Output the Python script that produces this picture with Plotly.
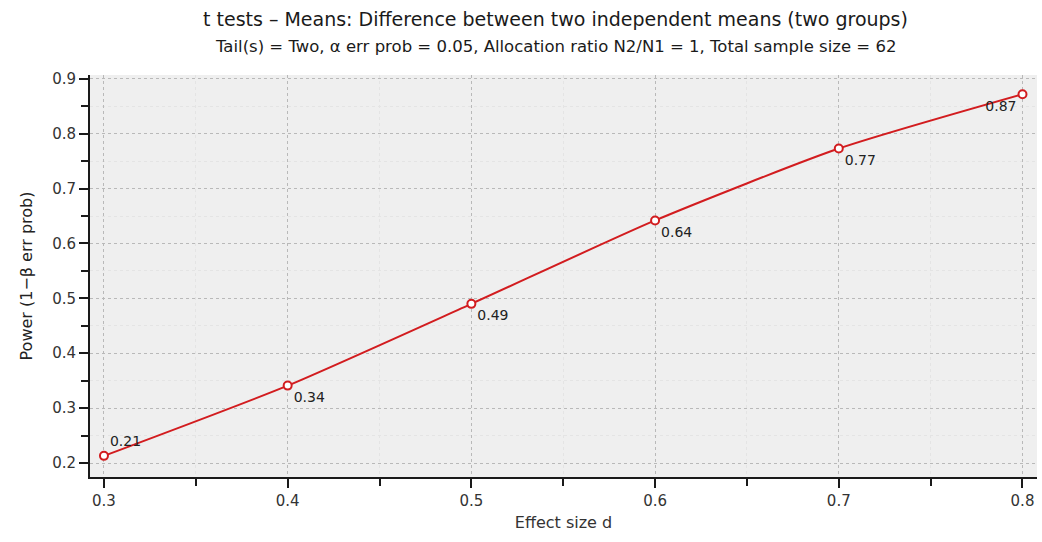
import plotly.graph_objects as go

# Power curve for a two-sided, two-sample t test (N = 62, alpha = 0.05)
effect_size = [0.3, 0.4, 0.5, 0.6, 0.7, 0.8]
power = [0.213, 0.341, 0.490, 0.642, 0.773, 0.872]
label_pos = ["top right", "bottom right", "bottom right", "bottom right", "bottom right", "bottom left"]

x_ticks = [0.3, 0.4, 0.5, 0.6, 0.7, 0.8]
y_ticks = [0.2, 0.3, 0.4, 0.5, 0.6, 0.7, 0.8, 0.9]

title_text = "t tests – Means: Difference between two independent means (two groups)"
subtitle_text = "Tail(s) = Two, α err prob = 0.05, Allocation ratio N2/N1 = 1, Total sample size = 62"

RED = "#d21c1f"
FONT = "DejaVu Sans, Verdana, sans-serif"

fig = go.Figure()
fig.add_trace(go.Scatter(
    x=effect_size,
    y=power,
    mode="lines+markers+text",
    line=dict(color=RED, width=2, shape="spline", smoothing=0.6),
    marker=dict(symbol="circle", size=8, color="white", line=dict(color=RED, width=2)),
    text=[f"{v:.2f}" for v in power],
    textposition=label_pos,
    textfont=dict(size=14, color="#222222", family=FONT),
    cliponaxis=False,
    hoverinfo="x+y",
))

axis_common = dict(
    showline=True, linecolor="#1a1a1a", linewidth=2, mirror=False,
    ticks="outside", ticklen=9, tickwidth=2, tickcolor="#1a1a1a",
    tickfont=dict(size=15, color="#333333", family=FONT),
    showgrid=True, gridcolor="#b9b9b9", griddash="dot", gridwidth=1,
    zeroline=False,
)

fig.update_xaxes(
    **axis_common,
    range=[0.2924, 0.8079],
    tickvals=x_ticks,
    ticktext=[f"{t:.1f}" for t in x_ticks],
    minor=dict(dtick=0.05, tick0=0.3, ticks="outside", ticklen=7, tickwidth=2,
               tickcolor="#1a1a1a", showgrid=True, gridcolor="#e4e4e4", gridwidth=1),
    title=dict(text="Effect size d", font=dict(size=16, color="#333333", family=FONT), standoff=8),
)
fig.update_yaxes(
    **axis_common,
    range=[0.1745, 0.907],
    tickvals=y_ticks,
    ticktext=[f"{t:.1f}" for t in y_ticks],
    minor=dict(dtick=0.05, tick0=0.2, ticks="outside", ticklen=7, tickwidth=2,
               tickcolor="#1a1a1a", showgrid=True, gridcolor="#e4e4e4", gridwidth=1),
    title=dict(text="Power (1−β err prob)", font=dict(size=16, color="#222222", family=FONT), standoff=16),
)

# Two-line heading placed above the plotting area
fig.add_annotation(
    text=title_text, xref="paper", yref="paper", x=0.492, y=1.0,
    xanchor="center", yanchor="middle", yshift=56,
    showarrow=False, font=dict(size=19, color="#1a1a1a", family=FONT),
)
fig.add_annotation(
    text=subtitle_text, xref="paper", yref="paper", x=0.492, y=1.0,
    xanchor="center", yanchor="middle", yshift=29,
    showarrow=False, font=dict(size=16.5, color="#1a1a1a", family=FONT),
)

fig.update_layout(
    width=1042, height=542,
    margin=dict(l=90, r=5, t=75, b=65),
    paper_bgcolor="white",
    plot_bgcolor="#efefef",
    showlegend=False,
    font=dict(family=FONT, color="#222222"),
)

fig.write_html("out.html")
